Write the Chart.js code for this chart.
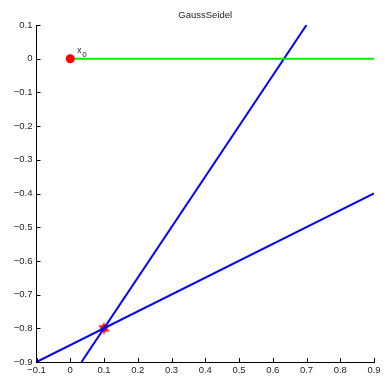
<!DOCTYPE html>
<html>
<head>
<meta charset="utf-8">
<script src="https://cdn.jsdelivr.net/npm/chart.js@4/dist/chart.umd.min.js"></script>
<style>
  html, body { margin: 0; padding: 0; background: #fff; }
  canvas { display: block; }
</style>
</head>
<body>
<canvas id="c" width="385" height="378"></canvas>
<script>
// Axis ticks
const xTicks = [-0.1, 0, 0.1, 0.2, 0.3, 0.4, 0.5, 0.6, 0.7, 0.8, 0.9];
const xTickLabels = ['\u22120.1', '0', '0.1', '0.2', '0.3', '0.4', '0.5', '0.6', '0.7', '0.8', '0.9'];
const yTicks = [-0.9, -0.8, -0.7, -0.6, -0.5, -0.4, -0.3, -0.2, -0.1, 0, 0.1];
const yTickLabels = ['\u22120.9', '\u22120.8', '\u22120.7', '\u22120.6', '\u22120.5', '\u22120.4', '\u22120.3', '\u22120.2', '\u22120.1', '0', '0.1'];

// First equation line (steep)
const line1X = [0.0333, 0.7];
const line1Y = [-0.9, 0.1];
// Second equation line (shallow)
const line2X = [-0.1, 0.9];
const line2Y = [-0.9, -0.4];
// Iteration path from the starting point
const pathX = [0, 0.9];
const pathY = [0, 0];
// Starting point x0 and solution
const startX = [0];
const startY = [0];
const solX = [0.1];
const solY = [-0.8];

const toPts = (xs, ys) => xs.map((x, i) => ({ x: x, y: ys[i] }));

// Filled six-pointed star marker
function hexagram(r) {
  const c = document.createElement('canvas');
  const s = Math.ceil(r * 2 + 2);
  c.width = s; c.height = s;
  const g = c.getContext('2d');
  const cx = s / 2, cy = s / 2, ri = r * 0.5;
  g.beginPath();
  for (let i = 0; i < 12; i++) {
    const a = -Math.PI / 2 + i * Math.PI / 6;
    const rr = i % 2 === 0 ? r : ri;
    const px = cx + rr * Math.cos(a), py = cy + rr * Math.sin(a);
    if (i === 0) g.moveTo(px, py); else g.lineTo(px, py);
  }
  g.closePath();
  g.fillStyle = '#ff0000';
  g.fill();
  return c;
}

const FONT = "'Liberation Sans', Arial, Helvetica, sans-serif";

const decorations = {
  id: 'decorations',
  afterDraw(chart) {
    const ctx = chart.ctx;
    const xs = chart.scales.x, ys = chart.scales.y;
    const area = chart.chartArea;
    ctx.save();
    // inward tick marks
    ctx.strokeStyle = '#000';
    ctx.lineWidth = 1;
    ctx.beginPath();
    xTicks.forEach(v => {
      const px = Math.round(xs.getPixelForValue(v)) + 0.5;
      ctx.moveTo(px, area.bottom);
      ctx.lineTo(px, area.bottom - 4);
    });
    yTicks.forEach(v => {
      const py = Math.round(ys.getPixelForValue(v)) + 0.5;
      ctx.moveTo(area.left, py);
      ctx.lineTo(area.left + 4, py);
    });
    ctx.stroke();

    // title
    ctx.fillStyle = '#222';
    ctx.font = '9.5px ' + FONT;
    ctx.textAlign = 'center';
    ctx.textBaseline = 'alphabetic';
    ctx.fillText('GaussSeidel', (area.left + area.right) / 2, 18);

    // label of starting point
    const px0 = xs.getPixelForValue(startX[0]);
    const py0 = ys.getPixelForValue(startY[0]);
    ctx.textAlign = 'left';
    ctx.font = '8.5px ' + FONT;
    ctx.fillText('x', px0 + 7, py0 - 6);
    ctx.font = '8px ' + FONT;
    ctx.fillText('0', px0 + 12, py0 - 2);
    ctx.restore();
  }
};

new Chart(document.getElementById('c'), {
  type: 'scatter',
  data: {
    datasets: [
      {
        data: toPts(startX, startY),
        pointStyle: 'circle', pointRadius: 4.5,
        pointBackgroundColor: '#ff0000', pointBorderColor: '#ff0000', pointBorderWidth: 0,
        order: 0
      },
      {
        data: toPts(pathX, pathY), showLine: true,
        borderColor: '#00ee00', borderWidth: 2, pointRadius: 0,
        order: 1
      },
      {
        data: toPts(line1X, line1Y), showLine: true,
        borderColor: '#0000ff', borderWidth: 2, pointRadius: 0,
        order: 2
      },
      {
        data: toPts(line2X, line2Y), showLine: true,
        borderColor: '#0000ff', borderWidth: 2, pointRadius: 0,
        order: 3
      },
      {
        data: toPts(solX, solY),
        pointStyle: hexagram(6.5), pointRadius: 6,
        order: 4
      }
    ]
  },
  options: {
    responsive: false,
    animation: false,
    events: [],
    layout: { padding: { top: 25, right: 11, left: 0, bottom: 0 } },
    plugins: { legend: { display: false }, tooltip: { enabled: false }, title: { display: false } },
    scales: {
      x: {
        type: 'linear', min: -0.1, max: 0.9,
        afterBuildTicks: s => { s.ticks = xTicks.map(v => ({ value: v })); },
        afterFit: s => { s.height = 16; },
        grid: { display: false, drawTicks: false, tickLength: 0 },
        border: { display: true, color: '#000', width: 1 },
        ticks: {
          autoSkip: false, maxRotation: 0, padding: 3,
          color: '#222', font: { family: FONT, size: 9.5 },
          callback: (v, i) => xTickLabels[i]
        }
      },
      y: {
        type: 'linear', min: -0.9, max: 0.1,
        afterBuildTicks: s => { s.ticks = yTicks.map(v => ({ value: v })); },
        afterFit: s => { s.width = 36.5; },
        grid: { display: false, drawTicks: false, tickLength: 0 },
        border: { display: true, color: '#000', width: 1 },
        ticks: {
          autoSkip: false, padding: 4,
          color: '#222', font: { family: FONT, size: 9.5 },
          callback: (v, i) => yTickLabels[i]
        }
      }
    }
  },
  plugins: [decorations]
});
</script>
</body>
</html>
